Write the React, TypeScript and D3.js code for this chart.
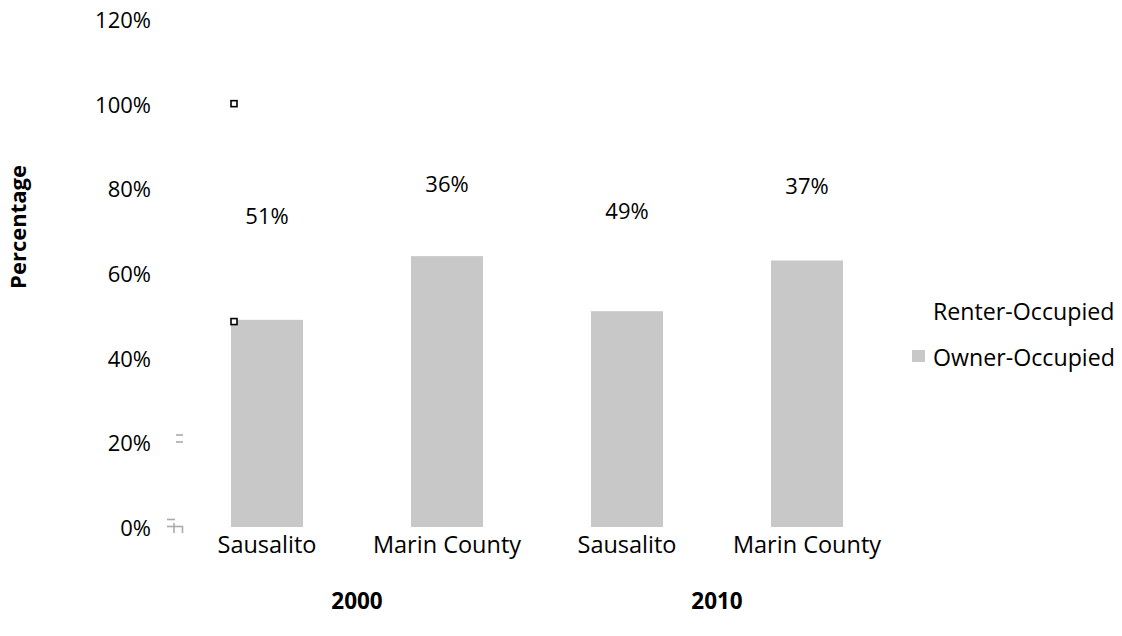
import React from "react";
import * as d3 from "d3";

const categories = ["Sausalito", "Marin County", "Sausalito", "Marin County"];
const years = ["2000", "2010"];
const ownerValues = [0.49, 0.64, 0.51, 0.63];
const renterValues = [0.51, 0.36, 0.49, 0.37];
const renterLabels = ["51%", "36%", "49%", "37%"];
const yTicks = [0, 0.2, 0.4, 0.6, 0.8, 1.0, 1.2];
const seriesNames = ["Renter-Occupied", "Owner-Occupied"];

const W = 1122;
const H = 636;
const FONT = "'Open Sans', 'Liberation Sans', sans-serif";
const OWNER_COLOR = "#c8c8c8";

export default function App() {
  const idx = categories.map((_, i) => String(i));
  const x = d3.scaleBand<string>().domain(idx).range([177, 897]).paddingInner(0.6).paddingOuter(0.3);
  const y = d3.scaleLinear().domain([0, 1.2]).range([527, 19]);
  const fmt = d3.format(".0%");
  const bw = x.bandwidth();

  return (
    <svg
      width={W}
      height={H}
      style={{ position: "absolute", left: 0, top: 0, background: "#fff" }}
      fontFamily={FONT}
    >
      <rect x={0} y={0} width={W} height={H} fill="#fff" />
      {yTicks.map((t) => (
        <text key={t} x={151} y={y(t)} textAnchor="end" dominantBaseline="central" fontSize={22} fill="#000">
          {fmt(t)}
        </text>
      ))}
      <text
        transform={`translate(17,${227}) rotate(-90)`}
        textAnchor="middle"
        dominantBaseline="central"
        fontSize={22}
        fontWeight="bold"
        fill="#000"
      >
        Percentage
      </text>
      {idx.map((k, i) => {
        const x0 = x(k) as number;
        const o = ownerValues[i];
        const r = renterValues[i];
        return (
          <g key={k}>
            <rect x={x0} y={y(o)} width={bw} height={y(0) - y(o)} fill={OWNER_COLOR} />
            <rect x={x0} y={y(o + r)} width={bw} height={y(o) - y(o + r)} fill="#fff" />
            <text
              x={x0 + bw / 2}
              y={(y(o) + y(o + r)) / 2 + 3}
              textAnchor="middle"
              dominantBaseline="central"
              fontSize={22}
              fill="#000"
            >
              {renterLabels[i]}
            </text>
            <text x={x0 + bw / 2} y={544} textAnchor="middle" dominantBaseline="central" fontSize={23.5} fill="#000">
              {categories[i]}
            </text>
          </g>
        );
      })}
      {years.map((yr, g) => {
        const a = (x(String(g * 2)) as number) + bw / 2;
        const b = (x(String(g * 2 + 1)) as number) + bw / 2;
        return (
          <text
            key={yr}
            x={(a + b) / 2}
            y={600}
            textAnchor="middle"
            dominantBaseline="central"
            fontSize={22.5}
            fontWeight="bold"
            fill="#000"
          >
            {yr}
          </text>
        );
      })}
      {(() => {
        const x0 = (x("0") as number) + 3;
        return (
          <g>
            <rect x={x0 - 3} y={y(1) - 3} width={6} height={6} fill="#fff" stroke="#000" strokeWidth={1.6} />
            <rect x={x0 - 3} y={y(ownerValues[0]) - 1} width={6} height={6} fill="#fff" stroke="#000" strokeWidth={1.6} />
          </g>
        );
      })()}
      <g stroke="#aaa" strokeWidth={1.6}>
        <line x1={176} x2={183} y1={435} y2={435} />
        <line x1={176} x2={183} y1={442} y2={442} />
        <line x1={167} x2={175} y1={519.5} y2={519.5} />
        <line x1={167} x2={183} y1={526.5} y2={526.5} />
        <line x1={174} x2={174} y1={523} y2={533} />
        <line x1={182.5} x2={182.5} y1={526} y2={533} />
      </g>
      <text x={933} y={311} dominantBaseline="central" fontSize={23.2} fill="#000">
        {seriesNames[0]}
      </text>
      <rect x={912} y={350} width={13} height={12} fill={OWNER_COLOR} />
      <text x={933} y={357} dominantBaseline="central" fontSize={23.2} fill="#000">
        {seriesNames[1]}
      </text>
    </svg>
  );
}
